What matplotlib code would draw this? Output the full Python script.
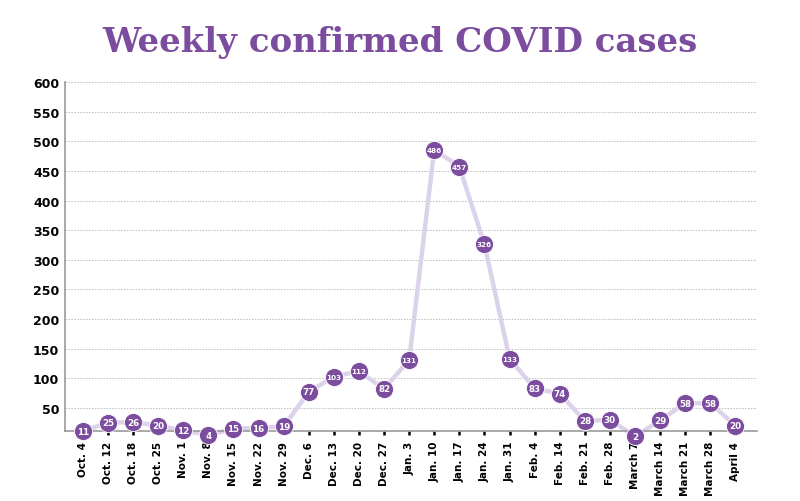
import matplotlib.pyplot as plt

weeks = ['Oct. 4', 'Oct. 12', 'Oct. 18', 'Oct. 25', 'Nov. 1', 'Nov. 8', 'Nov. 15', 'Nov. 22',
         'Nov. 29', 'Dec. 6', 'Dec. 13', 'Dec. 20', 'Dec. 27', 'Jan. 3', 'Jan. 10', 'Jan. 17',
         'Jan. 24', 'Jan. 31', 'Feb. 4', 'Feb. 14', 'Feb. 21', 'Feb. 28', 'March 7', 'March 14',
         'March 21', 'March 28', 'April 4']
cases = [11, 25, 26, 20, 12, 4, 15, 16, 19, 77, 103, 112, 82, 131, 486, 457, 326, 133,
         83, 74, 28, 30, 2, 29, 58, 58, 20]
yticks = [50, 100, 150, 200, 250, 300, 350, 400, 450, 500, 550, 600]

purple = '#7c4d9f'
lavender = '#dcd3ea'

fig = plt.figure(figsize=(8, 5.02), dpi=100)
ax = fig.add_axes([0.081, 0.1394, 0.865, 0.6953])

x = list(range(len(weeks)))
ax.plot(x, cases, color=lavender, lw=3.2, zorder=2, clip_on=False, solid_joinstyle='round')
ax.plot(x, cases, 'o', ms=13, color=purple, mec='white', mew=0.6, zorder=3, clip_on=False)
for xi, v in zip(x, cases):
    fs = 5.2 if v >= 100 else 6.3
    ax.text(xi, v, str(v), ha='center', va='center', color='white', fontsize=fs,
            fontweight='heavy', zorder=4, clip_on=False)

ax.set_xlim(-0.72, 26.85)
ax.set_ylim(11, 600)
ax.set_yticks(yticks)
ax.set_yticklabels([str(t) for t in yticks], fontsize=9, fontweight='heavy')
ax.set_xticks(x)
ax.set_xticklabels(weeks, rotation=90, fontsize=7.5, fontweight='heavy', va='top')
ax.tick_params(axis='y', length=0, pad=4)
ax.tick_params(axis='x', length=3, width=1.8, color='black', pad=4)
ax.grid(axis='y', color='#bbbbbb', ls=(0, (1.5, 1.5)), lw=0.7)
ax.set_axisbelow(True)
for s in ['top', 'right']:
    ax.spines[s].set_visible(False)
ax.spines['left'].set_color('#999999')
ax.spines['bottom'].set_color('#999999')
ax.spines['left'].set_linewidth(1.2)
ax.spines['bottom'].set_linewidth(1.2)

fig.text(0.5, 0.915, 'Weekly confirmed COVID cases', ha='center', va='center',
         color=purple, fontsize=24.5, fontweight='bold', family='DejaVu Serif')

fig.savefig('out.png', dpi=100)
